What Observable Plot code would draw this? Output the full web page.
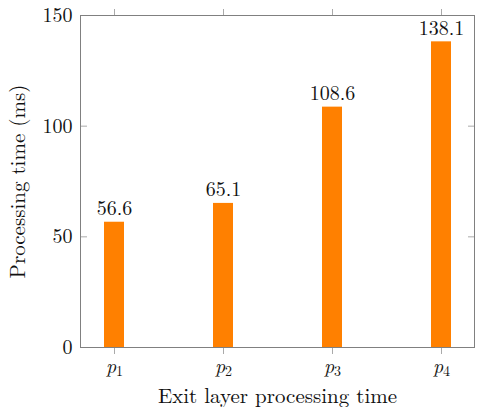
<!DOCTYPE html>
<html><head><meta charset="utf-8">
<script src="https://cdn.jsdelivr.net/npm/d3@7"></script>
<script src="https://cdn.jsdelivr.net/npm/@observablehq/plot@0.6"></script>
<style>
body{margin:0;background:#fff}
</style>
</head><body><div id="chart"></div>
<script>
const categories = ["p1", "p2", "p3", "p4"];
const values = [56.6, 65.1, 108.6, 138.1];
const yTicks = [0, 50, 100, 150];
const xLabel = "Exit layer processing time";
const yLabel = "Processing time (ms)";

const FONT = "'Latin Modern Roman', 'Liberation Serif', serif";
const data = categories.map((c, i) => ({c, v: values[i]}));

const plot = Plot.plot({
  width: 477, height: 407,
  marginLeft: 80, marginRight: 3, marginTop: 15, marginBottom: 60,
  style: {fontFamily: FONT, fontSize: "20px", color: "#000", background: "#fff", overflow: "visible"},
  x: {domain: categories, paddingInner: 0.818, paddingOuter: 0.2045},
  y: {domain: [0, 150]},
  marks: [
    Plot.barY(data, {x: "c", y: "v", fill: "#ff8000"}),
    Plot.text(data, {x: "c", y: "v", text: d => d.v.toFixed(1), lineAnchor: "bottom", dy: -7, fontSize: 20, fill: "#111"}),
    Plot.axisX({anchor: "bottom", tickSize: 7, tickPadding: 4, stroke: "#aaa", fill: "#111", fontSize: 20, label: null}),
    Plot.axisX({anchor: "top", tickSize: 7, tickFormat: () => "", stroke: "#aaa", label: null}),
    Plot.axisY({anchor: "left", ticks: yTicks, tickSize: 0, tickPadding: 8, fill: "#111", fontSize: 20, label: null}),
    Plot.axisY({anchor: "left", ticks: yTicks, tickSize: -7, tickFormat: () => "", stroke: "#aaa", label: null}),
    Plot.axisY({anchor: "right", ticks: yTicks, tickSize: -7, tickFormat: () => "", stroke: "#aaa", label: null}),
    Plot.frame({stroke: "#808080"}),
    Plot.text([xLabel], {frameAnchor: "bottom", textAnchor: "middle", dy: 55, text: d => d, fontSize: 21, fill: "#111"}),
    Plot.text([yLabel], {frameAnchor: "left", textAnchor: "middle", lineAnchor: "middle", dx: -62, rotate: -90, text: d => d, fontSize: 21, fill: "#111"})
  ]
});
document.getElementById("chart").appendChild(plot);

// italic p with upright subscript for the category tick labels
const ns = "http://www.w3.org/2000/svg";
plot.querySelectorAll('g[aria-label="x-axis tick label"] text').forEach(t => {
  const s = t.textContent;
  if (!/^p\d$/.test(s)) return;
  t.textContent = "";
  const a = document.createElementNS(ns, "tspan");
  a.setAttribute("font-style", "italic");
  a.textContent = s[0];
  const b = document.createElementNS(ns, "tspan");
  b.setAttribute("font-size", "14px");
  b.setAttribute("dy", "3");
  b.textContent = s.slice(1);
  t.appendChild(a); t.appendChild(b);
});
plot.querySelectorAll("text").forEach(t => t.style.setProperty("font-family", FONT, "important"));
</script>
</body></html>
